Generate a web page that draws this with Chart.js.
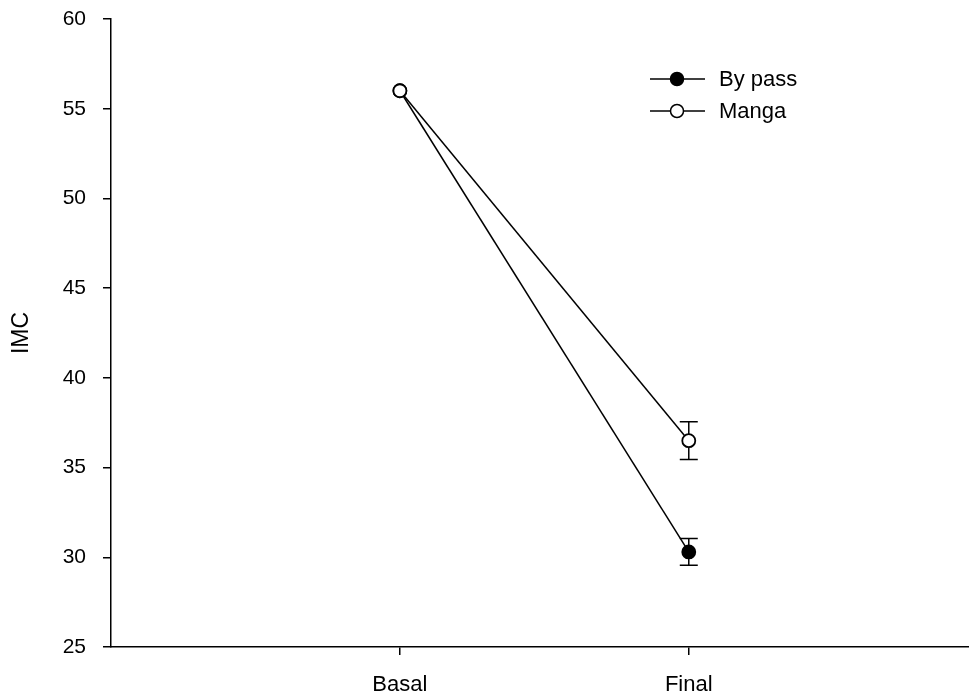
<!DOCTYPE html>
<html><head><meta charset="utf-8">
<script src="https://cdn.jsdelivr.net/npm/chart.js@4/dist/chart.umd.min.js"></script>
<style>html,body{margin:0;padding:0;background:#fff}</style>
</head><body>
<canvas id="c" width="969" height="696" style="width:969px;height:696px;display:block"></canvas>
<script>
const categories = ['Basal', 'Final'];
const xPositions = [1, 2];
const bypassValues = [56.0, 30.3];
const bypassErrors = [0, 0.75];
const mangaValues = [56.0, 36.5];
const mangaErrors = [0, 1.05];
const yTickValues = [25, 30, 35, 40, 45, 50, 55, 60];
const seriesLabels = ['By pass', 'Manga'];

const FONT = "'Liberation Sans', Arial, Helvetica, sans-serif";

// let the plot area reach the canvas edge (markers are allowed to overflow)
Chart.LineController.prototype.getMaxOverflow = function () { return 0; };

function pts(vals) { return vals.map((v, i) => ({ x: xPositions[i], y: v })); }

const errorBars = {
  id: 'errorBars',
  beforeDatasetsDraw(chart) {
    const ctx = chart.ctx, xs = chart.scales.x, ys = chart.scales.y;
    ctx.save();
    ctx.strokeStyle = '#000';
    ctx.lineWidth = 1.5;
    chart.data.datasets.forEach(ds => {
      ds.data.forEach((p, i) => {
        const e = ds.errors[i];
        if (!e) return;
        const x = xs.getPixelForValue(p.x);
        const yt = ys.getPixelForValue(p.y + e);
        const yb = ys.getPixelForValue(p.y - e);
        ctx.beginPath();
        ctx.moveTo(x, yt); ctx.lineTo(x, yb);
        ctx.moveTo(x - 9, yt); ctx.lineTo(x + 9, yt);
        ctx.moveTo(x - 9, yb); ctx.lineTo(x + 9, yb);
        ctx.stroke();
      });
    });
    ctx.restore();
  }
};

const customLegend = {
  id: 'customLegend',
  afterDraw(chart) {
    const ctx = chart.ctx;
    ctx.save();
    const order = [1, 0];
    const rows = [79, 111];
    order.forEach((di, r) => {
      const ds = chart.data.datasets[di];
      const y = rows[r];
      ctx.strokeStyle = '#000';
      ctx.lineWidth = 1.5;
      ctx.beginPath(); ctx.moveTo(650, y); ctx.lineTo(705, y); ctx.stroke();
      ctx.beginPath(); ctx.arc(677, y, 6.5, 0, Math.PI * 2);
      ctx.fillStyle = ds.pointBackgroundColor; ctx.fill(); ctx.stroke();
      ctx.fillStyle = '#000';
      ctx.font = '22px ' + FONT;
      ctx.textBaseline = 'middle';
      ctx.textAlign = 'left';
      ctx.fillText(ds.label, 719, y + 1);
    });
    ctx.restore();
  }
};

new Chart(document.getElementById('c'), {
  type: 'line',
  data: {
    datasets: [
      { label: seriesLabels[1], data: pts(mangaValues), errors: mangaErrors, order: 0,
        borderColor: '#000', borderWidth: 1.5, pointRadius: 6.5, pointBorderWidth: 1.8,
        pointBackgroundColor: '#fff', pointBorderColor: '#000', clip: false },
      { label: seriesLabels[0], data: pts(bypassValues), errors: bypassErrors, order: 1,
        borderColor: '#000', borderWidth: 1.5, pointRadius: 6.5, pointBorderWidth: 1.8,
        pointBackgroundColor: '#000', pointBorderColor: '#000', clip: false }
    ]
  },
  options: {
    responsive: false,
    animation: false,
    layout: { padding: { top: 19, right: 0, left: 0, bottom: 0 } },
    plugins: { legend: { display: false }, tooltip: { enabled: false } },
    scales: {
      x: {
        type: 'linear', min: 0, max: 2.97,
        afterBuildTicks(s) { s.ticks = xPositions.map(v => ({ value: v })); },
        afterFit(s) { s.height = 49; s.paddingLeft = 0; s.paddingRight = 0; },
        ticks: {
          callback: (v) => { const i = xPositions.indexOf(v); return i >= 0 ? categories[i] : ''; },
          color: '#000', font: { family: FONT, size: 22 }, padding: 17, maxRotation: 0, autoSkip: false
        },
        grid: { drawOnChartArea: false, drawTicks: true, tickLength: 8, color: '#000', lineWidth: 1.5 },
        border: { display: true, color: '#000', width: 1.5 }
      },
      y: {
        type: 'linear', min: 25, max: 60,
        afterBuildTicks(s) { s.ticks = yTickValues.map(v => ({ value: v })); },
        afterFit(s) { s.width = 111; s.paddingTop = 0; s.paddingBottom = 0; },
        ticks: { color: '#000', font: { family: FONT, size: 21 }, padding: 17 },
        grid: { drawOnChartArea: false, drawTicks: true, tickLength: 8, color: '#000', lineWidth: 1.5 },
        border: { display: true, color: '#000', width: 1.5 },
        title: { display: true, text: 'IMC', color: '#000', font: { family: FONT, size: 23 }, padding: { top: 8, bottom: 0 } }
      }
    }
  },
  plugins: [errorBars, customLegend]
});
</script>
</body></html>
